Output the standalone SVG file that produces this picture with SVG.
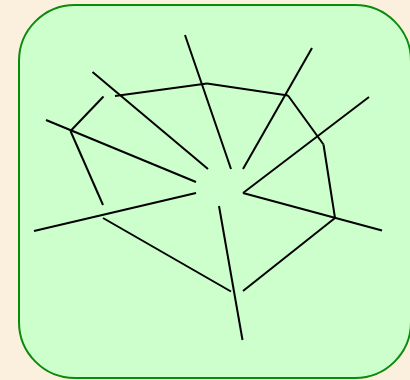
<svg xmlns="http://www.w3.org/2000/svg" width="410" height="380" viewBox="0 0 410 380">
  <style>
    .bg { fill: #fbefdd; }
    .frame { fill: #ccffcc; stroke: #0b8a0b; stroke-width: 2; }
    .web line { stroke: #000; stroke-width: 2; stroke-linecap: butt; }
  </style>
  <rect class="bg" x="0" y="0" width="410" height="380"/>
  <g id="frame">
    <rect class="frame" x="19" y="5" width="392" height="373" rx="56" ry="56"/>
  </g>
  <g id="connectors" class="web">
    <!-- spokes -->
    <line x1="185" y1="35" x2="231" y2="169"/>
    <line x1="312" y1="48" x2="243" y2="169"/>
    <line x1="369" y1="97" x2="243" y2="193"/>
    <line x1="243" y1="193" x2="382" y2="230.5"/>
    <line x1="219" y1="206" x2="242.5" y2="340"/>
    <line x1="34" y1="231" x2="196" y2="193"/>
    <line x1="46" y1="120" x2="196" y2="182"/>
    <line x1="92.5" y1="72" x2="208" y2="169"/>
    <!-- ring -->
    <line x1="103.5" y1="96.5" x2="70.5" y2="131"/>
    <line x1="70.5" y1="131" x2="103" y2="205"/>
    <line x1="103" y1="218" x2="231" y2="291.5"/>
    <line x1="243" y1="291" x2="335" y2="218"/>
    <line x1="335" y1="218" x2="323.5" y2="144.5"/>
    <line x1="323.5" y1="144.5" x2="288" y2="95.5"/>
    <line x1="288" y1="95.5" x2="207" y2="83.5"/>
    <line x1="207" y1="83.5" x2="115" y2="96"/>
  </g>
</svg>
